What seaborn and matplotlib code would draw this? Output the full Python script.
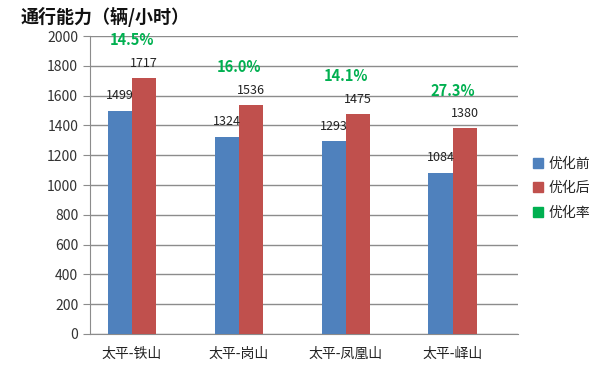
import seaborn as sns
import matplotlib.pyplot as plt
import pandas as pd
from matplotlib.patches import Patch

# data
routes = ['太平-铁山', '太平-岗山', '太平-凤凰山', '太平-峄山']
before = [1499, 1324, 1293, 1084]
after = [1717, 1536, 1475, 1380]
rates = ['14.5%', '16.0%', '14.1%', '27.3%']
series = ['优化前', '优化后']

df = pd.DataFrame({
    'route': routes * 2,
    'value': before + after,
    'series': [series[0]] * 4 + [series[1]] * 4,
})

sns.set_style('white')
plt.rcParams['font.family'] = ['Noto Sans CJK SC', 'DejaVu Sans']

fig = plt.figure(figsize=(6, 3.69), dpi=100)
ax = fig.add_axes([0.15, 0.095, 0.713, 0.807])

palette = {'优化前': '#4F81BD', '优化后': '#C0504D'}
sns.barplot(data=df, x='route', y='value', hue='series', palette=palette,
            width=0.45, saturation=1, linewidth=0, ax=ax, legend=False, zorder=3)

# value labels above each bar
for cont in ax.containers:
    ax.bar_label(cont, fmt='%d', padding=6, fontsize=9, color='#222222')

# optimisation rate above each group
for i, (r, a) in enumerate(zip(rates, after)):
    ax.annotate(r, xy=(i, a), xytext=(0, 21.5), textcoords='offset points',
                ha='center', va='bottom', fontsize=10.5, fontweight='bold',
                color='#00B050')

ax.set_xlim(-0.39, 3.61)
ax.set_ylim(0, 2000)
ax.set_yticks(range(0, 2001, 200))
ax.yaxis.grid(True, color='#8c8c8c', linewidth=1, zorder=0)
ax.set_axisbelow(True)
ax.set_xlabel('')
ax.set_ylabel('')
for s in ['top', 'right']:
    ax.spines[s].set_visible(False)
ax.spines['left'].set_color('#8c8c8c')
ax.spines['bottom'].set_color('#8c8c8c')
ax.tick_params(axis='y', length=5, color='#8c8c8c', labelsize=10, labelcolor='#333333', left=True)
ax.tick_params(axis='x', length=0, labelsize=10, labelcolor='#222222', pad=9)

handles = [Patch(color='#4F81BD'), Patch(color='#C0504D'), Patch(color='#00B050')]
fig.legend(handles, ['优化前', '优化后', '优化率'], loc='center left',
           bbox_to_anchor=(0.868, 0.49), frameon=False, fontsize=10,
           handlelength=0.7, handleheight=0.7, handletextpad=0.4, labelspacing=0.75)

fig.text(0.035, 0.955, '通行能力（辆/小时）', fontsize=13, fontweight='bold',
         ha='left', va='center', color='#111111')

fig.savefig('out.png', dpi=100)
